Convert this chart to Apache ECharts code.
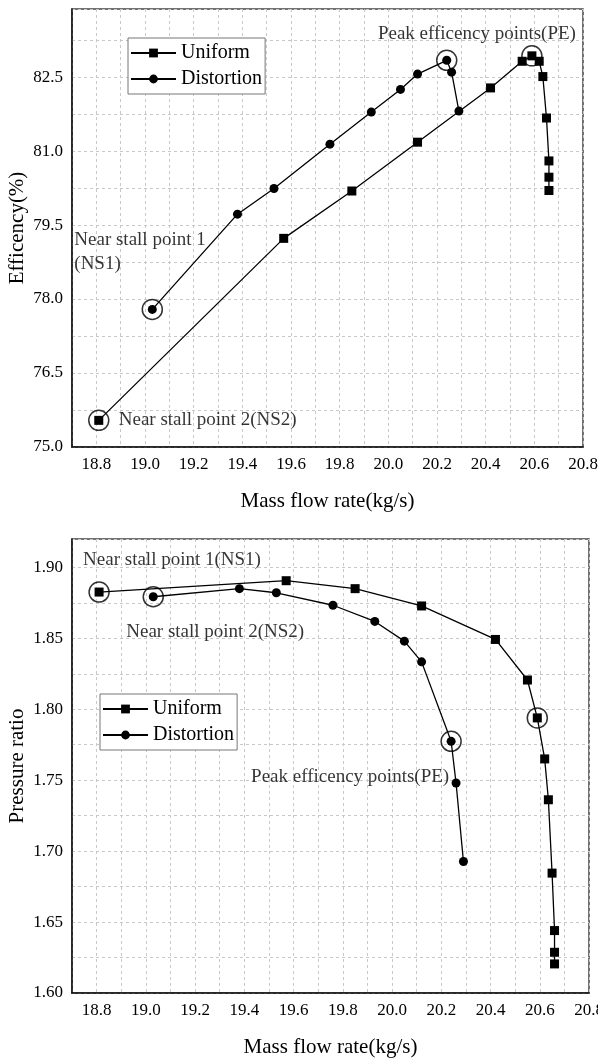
<!DOCTYPE html>
<html><head><meta charset="utf-8">
<script src="https://cdn.jsdelivr.net/npm/echarts@6/dist/echarts.min.js"></script>
<style>html,body{margin:0;padding:0;background:#fff}#c{width:598px;height:1060px}</style>
</head><body><div id="c"></div>
<script>
// ---- data ----
const seriesNames = ['Uniform', 'Distortion'];
const massUniform = [18.81, 19.57, 19.85, 20.12, 20.42, 20.55, 20.59, 20.62, 20.635, 20.65, 20.66, 20.66, 20.66];
const effUniform = [75.54, 79.23, 80.19, 81.18, 82.28, 82.82, 82.93, 82.82, 82.51, 81.67, 80.80, 80.47, 80.20];
const prUniform = [1.8826, 1.8906, 1.8850, 1.8728, 1.8492, 1.8206, 1.7939, 1.7650, 1.7362, 1.6845, 1.6440, 1.6287, 1.6205];
const massDistortion = [19.03, 19.38, 19.53, 19.76, 19.93, 20.05, 20.12, 20.24, 20.26, 20.29];
const effDistortion = [77.79, 79.72, 80.24, 81.14, 81.79, 82.25, 82.56, 82.84, 82.60, 81.81];
const prDistortion = [1.8793, 1.8850, 1.8821, 1.8733, 1.8619, 1.8480, 1.8334, 1.7774, 1.7480, 1.6927];
const massTicks = [18.8, 19.0, 19.2, 19.4, 19.6, 19.8, 20.0, 20.2, 20.4, 20.6, 20.8];
const effTicks = [75.0, 76.5, 78.0, 79.5, 81.0, 82.5];
const prTicks = [1.60, 1.65, 1.70, 1.75, 1.80, 1.85, 1.90];
const labelNS1 = 'Near stall point 1';
const labelNS1b = '(NS1)';
const labelNS2 = 'Near stall point 2(NS2)';
const labelNS1full = 'Near stall point 1(NS1)';
const labelPE = 'Peak efficency points(PE)';
const xName = 'Mass flow rate(kg/s)';
const yNameTop = 'Efficency(%)';
const yNameBottom = 'Pressure ratio';

// ---- helpers ----
const FONT = 'Liberation Serif';
const pts = (xs, ys) => xs.map((x, i) => [x, ys[i]]);
const argMax = a => a.indexOf(Math.max(...a));
const peU = argMax(effUniform), peD = argMax(effDistortion);
const tickFmt = (ticks, dec) => v => ticks.some(t => Math.abs(t - v) < 1e-6) ? v.toFixed(dec) : '';

const gridLine = { show: true, lineStyle: { color: '#c8c8c8', type: [3, 3], width: 1 } };
const axisLine = { show: true, onZero: false, lineStyle: { color: '#111', width: 1.5 } };
const lbl = { color: '#000', fontFamily: FONT, fontSize: 17 };
const nameStyle = { color: '#000', fontFamily: FONT, fontSize: 21 };

function xAxis(gi) {
  return { type: 'value', gridIndex: gi, min: 18.7, max: 20.8, interval: 0.1,
    axisLine, axisTick: { show: false }, splitLine: gridLine,
    axisLabel: Object.assign({ margin: 9, formatter: tickFmt(massTicks, 1), showMinLabel: true, showMaxLabel: true, hideOverlap: false }, lbl),
    name: xName, nameLocation: 'middle', nameGap: 44, nameMoveOverlap: false, nameTextStyle: nameStyle };
}
function yAxis(gi, min, max, interval, ticks, dec, name) {
  return { type: 'value', gridIndex: gi, min, max, interval,
    axisLine, axisTick: { show: false }, splitLine: gridLine,
    axisLabel: Object.assign({ margin: 9, formatter: tickFmt(ticks, dec) }, lbl),
    name, nameLocation: 'middle', nameGap: 44, nameMoveOverlap: false, nameRotate: 90, nameTextStyle: nameStyle };
}
function lineSeries(name, symbol, xi, data) {
  return { name, type: 'line', xAxisIndex: xi, yAxisIndex: xi, data, symbol, symbolSize: 9,
    showSymbol: true, color: '#000', itemStyle: { color: '#000' },
    lineStyle: { color: '#000', width: 1.3 }, animation: false, z: 3 };
}
const annLabel = (text, align, offset) => ({ show: true, formatter: text, position: 'inside', align, verticalAlign: 'middle',
  offset, color: '#000', fontFamily: FONT, fontSize: 19, lineHeight: 24 });
function rings(xi, items) {
  return { name: 'ring', type: 'scatter', xAxisIndex: xi, yAxisIndex: xi, symbol: 'circle', symbolSize: 20,
    itemStyle: { color: 'rgba(0,0,0,0)', borderColor: '#000', borderWidth: 1.5 },
    label: { show: false }, data: items, animation: false, z: 4, silent: true };
}
const legend = (left, top) => ({ data: seriesNames, left, top, orient: 'vertical', selectedMode: false,
  itemWidth: 45, itemHeight: 11, itemGap: 6, padding: [5, 3, 5, 2], borderColor: '#777', borderWidth: 1,
  backgroundColor: '#fff',
  textStyle: { color: '#000', fontFamily: FONT, fontSize: 20, lineHeight: 20 } });

const option = {
  backgroundColor: '#fff',
  animation: false,
  grid: [
    { left: 72, top: 9, right: 15, bottom: 613, show: true, borderColor: '#444', borderWidth: 1.5, containLabel: false, outerBoundsMode: 'none' },
    { left: 72, top: 539, right: 9, bottom: 67, show: true, borderColor: '#444', borderWidth: 1.5, containLabel: false, outerBoundsMode: 'none' }
  ],
  xAxis: [xAxis(0), xAxis(1)],
  yAxis: [
    yAxis(0, 75, 83.88, 0.75, effTicks, 1, yNameTop),
    yAxis(1, 1.6, 1.92, 0.025, prTicks, 2, yNameBottom)
  ],
  legend: [legend(128, 38), legend(100, 694)],
  series: [
    lineSeries(seriesNames[0], 'rect', 0, pts(massUniform, effUniform)),
    lineSeries(seriesNames[1], 'circle', 0, pts(massDistortion, effDistortion)),
    lineSeries(seriesNames[0], 'rect', 1, pts(massUniform, prUniform)),
    lineSeries(seriesNames[1], 'circle', 1, pts(massDistortion, prDistortion)),
    rings(0, [
      { value: [massDistortion[0], effDistortion[0]], label: annLabel(labelNS1 + '\n' + labelNS1b, 'left', [-78, -57]) },
      { value: [massUniform[0], effUniform[0]], label: annLabel(labelNS2, 'left', [20, 0]) },
      { value: [massUniform[peU], effUniform[peU]], label: annLabel(labelPE, 'center', [-55, -22]) },
      { value: [massDistortion[peD], effDistortion[peD]] }
    ]),
    rings(1, [
      { value: [massUniform[0], prUniform[0]], label: annLabel(labelNS1full, 'left', [-16, -32]) },
      { value: [massDistortion[0], prDistortion[0]], label: annLabel(labelNS2, 'left', [-27, 35]) },
      { value: [massDistortion[peD], prDistortion[peD]], label: annLabel(labelPE, 'right', [-2, 36]) },
      { value: [massUniform[peU], prUniform[peU]] }
    ])
  ]
};
const chart = echarts.init(document.getElementById('c'), null, { renderer: 'canvas' });
chart.setOption(option);
</script>
</body></html>
